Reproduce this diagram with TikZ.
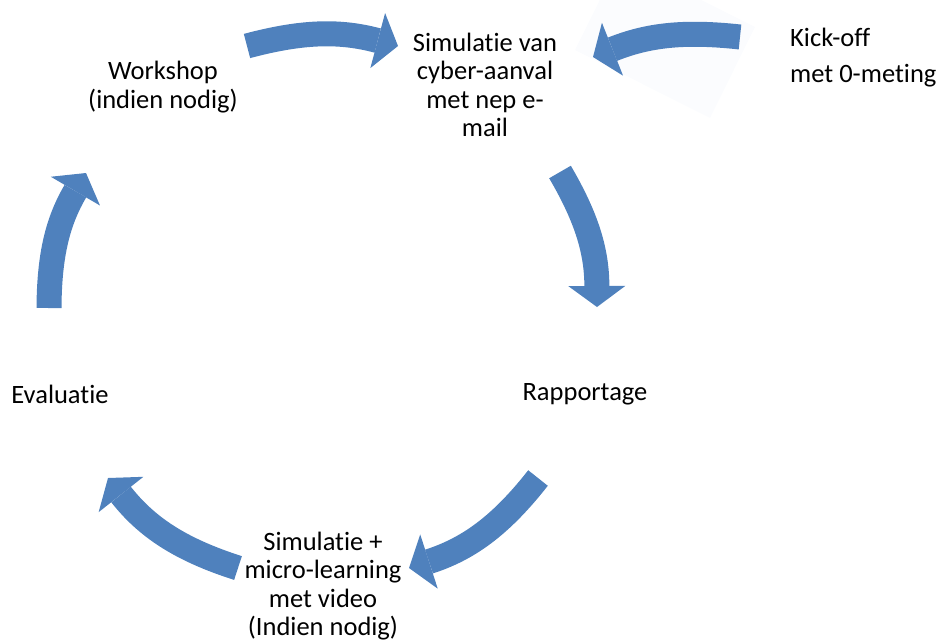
\documentclass[tikz,border=0pt]{standalone}
\usepackage{fontspec}
\setmainfont[Ligatures={NoCommon,NoContextual}]{Carlito}
\usetikzlibrary{arrows.meta}
\definecolor{cycblue}{RGB}{79,129,189}
\definecolor{kickbg}{RGB}{251,252,254}
\tikzset{
    lbl/.style={align=center,inner sep=0pt,font=\fontsize{26.5}{28.5}\selectfont},
    cyc/.style={draw=cycblue,line width=25pt,-{Triangle[length=21pt,width=57pt,line width=0pt,fill=cycblue]}}
}
\begin{document}
\begin{tikzpicture}[x=1pt,y=-1pt]
    \clip (0,0) rectangle (939,641);
    % faint box behind the kick-off arrow
    \fill[kickbg] (575,50)--(710,118)--(755,27)--(620,-41)--cycle;

    \node[lbl] (sim) at (485,85) {Simulatie van\\cyber-aanval\\met nep e-\\mail};
    \node[lbl,align=left,anchor=west,font=\fontsize{26.5}{36}\selectfont] (kick) at (790,58) {Kick-off\\met 0-meting};
    \node[lbl] (rap) at (585,394) {Rapportage};
    \node[lbl] (mic) at (323,586) {Simulatie +\\micro-learning\\met video\\(Indien nodig)};
    \node[lbl] (eva) at (60,394) {Evaluatie};
    \node[lbl] (wrk) at (163,87) {Workshop\\(indien nodig)};

    \coordinate (wrk-out) at (247,46);  \coordinate (sim-in) at (398,46);
    \coordinate (kick-out) at (740,37); \coordinate (sim-in2) at (593,57);
    \coordinate (sim-out) at (560,172); \coordinate (rap-in) at (597,307);
    \coordinate (rap-out) at (538,478); \coordinate (mic-in) at (409,568);
    \coordinate (mic-out) at (238,568); \coordinate (eva-in) at (108,478);
    \coordinate (eva-out) at (49,308);  \coordinate (wrk-in) at (86,173);

    \draw[cyc] (wrk-out) to[bend left=15] (sim-in);
    \draw[cyc] (kick-out) to[bend right=14] (sim-in2);
    \draw[cyc] (sim-out) to[bend left=15] (rap-in);
    \draw[cyc] (rap-out) to[bend left=17] (mic-in);
    \draw[cyc] (mic-out) to[bend left=17] (eva-in);
    \draw[cyc] (eva-out) to[bend left=15] (wrk-in);
\end{tikzpicture}
\end{document}
